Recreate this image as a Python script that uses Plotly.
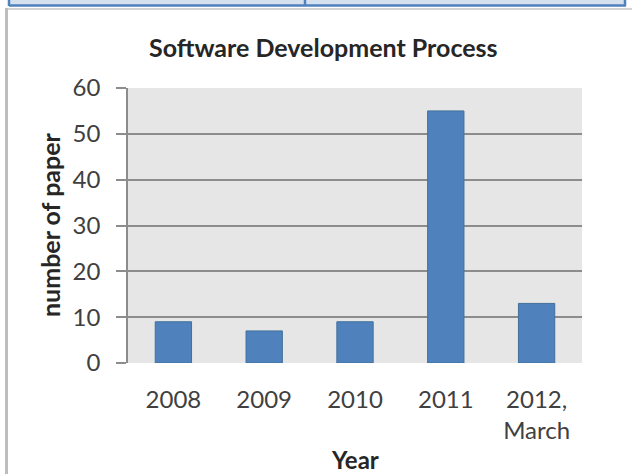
import plotly.graph_objects as go

# ---- data ----
categories = ["2008", "2009", "2010", "2011", "2012,<br>March"]
papers = [9, 7, 9, 55, 13]
y_ticks = [0, 10, 20, 30, 40, 50, 60]

title_text = "Software Development Process"
x_title = "Year"
y_title = "number of paper"

W, H = 632, 474
L, R, T, B = 128, 50, 88, 111
PW, PH = W - L - R, H - T - B

def px(x):
    return (x - L) / PW

def py(y):
    return (H - B - y) / PH

FONT = "Lato"
BAR = "#4f81bd"

fig = go.Figure(
    go.Bar(
        x=categories,
        y=papers,
        marker=dict(color=BAR, line=dict(color="#41719c", width=1)),
        width=0.4,
    )
)

shapes = [
    # top table fragment (page decoration)
    dict(type="rect", xref="paper", yref="paper", x0=px(10), x1=px(625), y0=py(5), y1=py(-2),
         fillcolor="#d6e1f0", line=dict(width=0), layer="above"),
    dict(type="line", xref="paper", yref="paper", x0=px(9), x1=px(626), y0=py(5.5), y1=py(5.5),
         line=dict(color="#4f81bd", width=2.5)),
    dict(type="line", xref="paper", yref="paper", x0=px(9), x1=px(9), y0=py(6), y1=py(-2),
         line=dict(color="#4f81bd", width=2.5)),
    dict(type="line", xref="paper", yref="paper", x0=px(305), x1=px(305), y0=py(6), y1=py(-2),
         line=dict(color="#4f81bd", width=2.5)),
    dict(type="line", xref="paper", yref="paper", x0=px(625), x1=px(625), y0=py(6), y1=py(-2),
         line=dict(color="#4f81bd", width=2.5)),
    # chart frame shadow
    dict(type="line", xref="paper", yref="paper", x0=px(6), x1=px(640), y0=py(9), y1=py(9),
         line=dict(color="#d4d4d4", width=2)),
    dict(type="line", xref="paper", yref="paper", x0=px(6.5), x1=px(6.5), y0=py(8), y1=py(480),
         line=dict(color="#bdbdbd", width=3)),
]

fig.update_layout(
    width=W,
    height=H,
    margin=dict(l=L, r=R, t=T, b=B, pad=0),
    paper_bgcolor="white",
    plot_bgcolor="#e6e6e6",
    showlegend=False,
    font=dict(family=FONT, color="#404040"),
    shapes=shapes,
    annotations=[
        dict(text="<b>" + title_text + "</b>", xref="paper", yref="paper",
             x=px(323), y=py(47), xanchor="center", yanchor="middle", showarrow=False,
             font=dict(family=FONT, size=25, color="#262626")),
        dict(text="<b>" + x_title + "</b>", xref="paper", yref="paper",
             x=px(355), y=py(459), xanchor="center", yanchor="middle", showarrow=False,
             font=dict(family=FONT, size=24, color="#262626")),
        dict(text="<b>" + y_title + "</b>", xref="paper", yref="paper",
             x=px(50), y=py(225), xanchor="center", yanchor="middle", showarrow=False,
             textangle=-90, font=dict(family=FONT, size=25, color="#262626")),
    ],
    xaxis=dict(
        type="category",
        showgrid=False,
        showline=False,
        ticks="",
        tickfont=dict(family=FONT, size=24, color="#404040"),
        ticklabelstandoff=20,
        zeroline=False,
    ),
    yaxis=dict(
        range=[0, 60],
        tickvals=y_ticks,
        showgrid=True,
        gridcolor="#8c8c8c",
        gridwidth=1.5,
        showline=True,
        linecolor="#8c8c8c",
        linewidth=1.5,
        ticks="outside",
        ticklen=10,
        tickcolor="#8c8c8c",
        tickwidth=1.5,
        tickfont=dict(family=FONT, size=24, color="#404040"),
        ticklabelstandoff=11,
        zeroline=False,
    ),
)

fig.write_html(
    "out.html",
    config={"displayModeBar": False},
    post_script="document.body.style.margin='0';document.body.style.overflow='hidden';",
)
